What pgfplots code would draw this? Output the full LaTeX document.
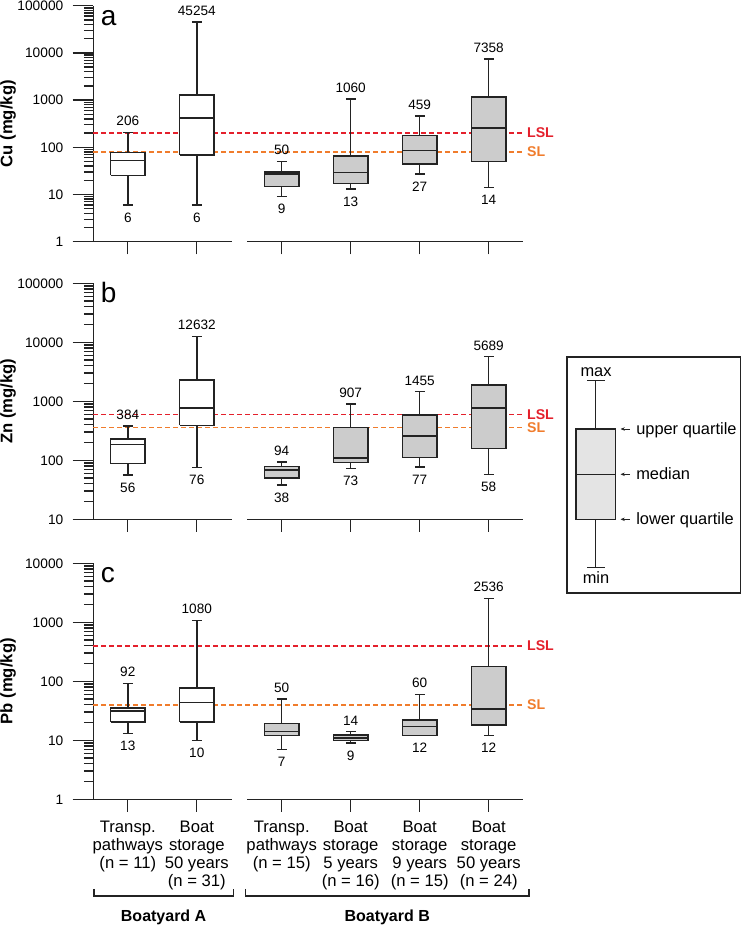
\documentclass[border=0pt]{standalone}
\usepackage{fontspec}
\setmainfont{Liberation Sans}
\usepackage{pgfplots}
\pgfplotsset{compat=1.18}
\usetikzlibrary{arrows.meta}
\definecolor{lslred}{RGB}{228,32,44}
\definecolor{slorange}{RGB}{240,124,44}
\definecolor{ink}{RGB}{35,35,35}
\definecolor{boxgray}{RGB}{204,204,204}
\definecolor{leggray}{RGB}{228,228,228}
\pgfplotsset{
  mypanel/.style={
    scale only axis, width=322.4pt, height=177pt,
    anchor=south west,
    xmin=-0.5, xmax=5.73,
    axis y line*=left, axis x line*=bottom,
    x axis line style={draw=none},
    y axis line style={-, ink, line width=1.1pt},
    tick align=outside,
    major tick length=15.45pt, minor tick length=7pt,
    tick style={ink, line width=1.0pt},
    xtick={0,1,2.23,3.23,4.23,5.23},
    xtick style={/pgfplots/major tick length=9.5pt},
    xticklabels={,,,,,}, yticklabels={,,,,,},
    clip=false,
    every axis y label/.style={at={(axis description cs:-0.198,0.5)}, rotate=90, anchor=center, font=\bfseries\fontsize{12.5}{14}\selectfont},
  },
  boxline/.style={draw=ink, line width=1.1pt, solid, mark=none},
  lsl/.style={draw=lslred, line width=1.3pt, dash pattern=on 3.75pt off 2.25pt, mark=none},
  sl/.style={draw=slorange, line width=1.3pt, dash pattern=on 3.75pt off 2.25pt, mark=none},
}
% box: #1 position, #2 min, #3 lower quartile, #4 median, #5 upper quartile, #6 max, #7 fill colour
\newcommand{\bx}[7]{%
  \pgfmathsetmacro\xl{#1-0.25}\pgfmathsetmacro\xr{#1+0.25}%
  \pgfmathsetmacro\cl{#1-0.07}\pgfmathsetmacro\cr{#1+0.07}%
  \addplot[boxline] coordinates {(#1,#2) (#1,#3)};
  \addplot[boxline] coordinates {(\cl,#2) (\cr,#2)};
  \addplot[boxline] coordinates {(#1,#5) (#1,#6)};
  \addplot[boxline] coordinates {(\cl,#6) (\cr,#6)};
  \addplot[boxline, fill=#7] coordinates {(\xl,#3) (\xr,#3) (\xr,#5) (\xl,#5) (\xl,#3)};
  \addplot[boxline] coordinates {(\xl,#4) (\xr,#4)};
  \node[anchor=base, yshift=5pt, inner sep=0pt, font=\fontsize{10.2}{12}\selectfont] at (axis cs:#1,#6) {#6};
  \node[anchor=base, yshift=-12.8pt, inner sep=0pt, font=\fontsize{10.2}{12}\selectfont] at (axis cs:#1,#2) {#2};
}
\newcommand{\ylab}[1]{\node[anchor=east, inner sep=0pt, xshift=-22.3pt, font=\fontsize{10.3}{12}\selectfont] at (axis cs:-0.5,#1) {#1};}
\newcommand{\limlab}[3]{\node[anchor=west, inner sep=0pt, xshift=2.8pt, text=#3, font=\bfseries\fontsize{10.6}{12}\selectfont] at (axis cs:5.73,#1) {#2};}
\newcommand{\panlet}[1]{\node[anchor=base west, inner sep=0pt, yshift=-14.6pt, font=\fontsize{21}{24}\selectfont] at (axis description cs:0.0172,1) {#1};}
\newcommand{\segs}[1]{%
  \draw[ink, line width=1.1pt] (axis cs:-0.797,#1) -- (axis cs:1.507,#1);
  \draw[ink, line width=1.1pt] (axis cs:1.733,#1) -- (axis cs:5.733,#1);}

\begin{document}
\begin{tikzpicture}
\useasboundingbox (0pt,0pt) rectangle (556.5pt,693.75pt);

% ---------------- panel a: Cu ----------------
\begin{axis}[mypanel, ymode=log, at={(69.975pt,512.475pt)}, ymin=1, ymax=100000,
  ytick={1,10,100,1000,10000,100000},
  minor ytick={2,3,4,5,6,7,8,9,20,30,40,50,60,70,80,90,200,300,400,500,600,700,800,900,2000,3000,4000,5000,6000,7000,8000,9000,20000,30000,40000,50000,60000,70000,80000,90000},
  ylabel={Cu (mg/kg)}]
\addplot[lsl] coordinates {(-0.5,200) (5.73,200)};
\addplot[sl] coordinates {(-0.5,80) (5.73,80)};
\bx{0}{6}{25.3}{52.6}{77.6}{206}{white}
\bx{1}{6}{69.3}{413}{1268}{45254}{white}
\bx{2.23}{9}{14.6}{27.0}{30.3}{50}{boxgray}
\bx{3.23}{13}{16.9}{29.3}{65.9}{1060}{boxgray}
\bx{4.23}{27}{44.7}{85.5}{178}{459}{boxgray}
\bx{5.23}{14}{50.1}{258}{1169}{7358}{boxgray}
\ylab{1}\ylab{10}\ylab{100}\ylab{1000}\ylab{10000}\ylab{100000}
\limlab{200}{LSL}{lslred}
\limlab{80}{SL}{slorange}
\panlet{a}
\segs{1}
\end{axis}

% ---------------- panel b: Zn ----------------
\begin{axis}[mypanel, ymode=log, at={(69.975pt,304.275pt)}, ymin=10, ymax=100000,
  ytick={10,100,1000,10000,100000},
  minor ytick={20,30,40,50,60,70,80,90,200,300,400,500,600,700,800,900,2000,3000,4000,5000,6000,7000,8000,9000,20000,30000,40000,50000,60000,70000,80000,90000},
  ylabel={Zn (mg/kg)}]
\addplot[lsl] coordinates {(-0.5,600) (5.73,600)};
\addplot[sl] coordinates {(-0.5,360) (5.73,360)};
\bx{0}{56}{87.5}{186}{229}{384}{white}
\bx{1}{76}{389}{775}{2308}{12632}{white}
\bx{2.23}{38}{50}{68.3}{77.8}{94}{boxgray}
\bx{3.23}{73}{91}{109}{356}{907}{boxgray}
\bx{4.23}{77}{112}{260}{590}{1455}{boxgray}
\bx{5.23}{58}{157}{765}{1875}{5689}{boxgray}
\ylab{10}\ylab{100}\ylab{1000}\ylab{10000}\ylab{100000}
\limlab{600}{LSL}{lslred}
\limlab{360}{SL}{slorange}
\panlet{b}
\segs{10}
\end{axis}

% ---------------- panel c: Pb ----------------
\begin{axis}[mypanel, ymode=log, at={(69.975pt,94.275pt)}, ymin=1, ymax=10000,
  ytick={1,10,100,1000,10000},
  minor ytick={2,3,4,5,6,7,8,9,20,30,40,50,60,70,80,90,200,300,400,500,600,700,800,900,2000,3000,4000,5000,6000,7000,8000,9000},
  ylabel={Pb (mg/kg)}]
\addplot[lsl] coordinates {(-0.5,400) (5.73,400)};
\addplot[sl] coordinates {(-0.5,40) (5.73,40)};
\bx{0}{13}{20.3}{31.6}{35.6}{92}{white}
\bx{1}{10}{20.3}{43.8}{76.5}{1080}{white}
\bx{2.23}{7}{12.1}{14.1}{19.1}{50}{boxgray}
\bx{3.23}{9}{9.96}{11.0}{12.3}{14}{boxgray}
\bx{4.23}{12}{12.1}{17.2}{22.0}{60}{boxgray}
\bx{5.23}{12}{18.1}{34.2}{180}{2536}{boxgray}
\ylab{1}\ylab{10}\ylab{100}\ylab{1000}\ylab{10000}
\limlab{400}{LSL}{lslred}
\limlab{40}{SL}{slorange}
\panlet{c}
\segs{1}
\end{axis}

\begin{scope}[x=0.75pt, y=0.75pt]
% ---------------- category labels ----------------
\begin{scope}[every node/.style={anchor=north, inner sep=0pt, align=center, font=\fontsize{12.5}{13.6}\selectfont}]
\node at (127.8,104.6) {Transp.\\pathways\\(n = 11)};
\node at (196.8,104.6) {Boat\\storage\\50 years\\(n = 31)};
\node at (281.7,104.6) {Transp.\\pathways\\(n = 15)};
\node at (350.7,104.6) {Boat\\storage\\5 years\\(n = 16)};
\node at (419.7,104.6) {Boat\\storage\\9 years\\(n = 15)};
\node at (488.7,104.6) {Boat\\storage\\50 years\\(n = 24)};
\end{scope}
% ---------------- group brackets ----------------
\draw[ink, line width=1.1pt] (94,925-889) -- (94,925-896) -- (233.3,925-896) -- (233.3,925-889);
\draw[ink, line width=1.1pt] (245.5,925-889) -- (245.5,925-896) -- (528.9,925-896) -- (528.9,925-889);
\node[anchor=base, inner sep=0pt, font=\bfseries\fontsize{12}{14}\selectfont] at (163.6,925-922) {Boatyard A};
\node[anchor=base, inner sep=0pt, font=\bfseries\fontsize{12}{14}\selectfont] at (387.2,925-922) {Boatyard B};

% ---------------- legend ----------------
\begin{scope}[ink, line width=1.1pt]
\draw (567,925-357) rectangle (740.5,925-593);
\draw (595.7,925-380.7) -- (595.7,925-429);
\draw (587.3,925-380.7) -- (605,925-380.7);
\draw[fill=leggray] (576,925-429) rectangle (615.3,925-519.3);
\draw (576,925-474.3) -- (615.3,925-474.3);
\draw (595.7,925-519.3) -- (595.7,925-567.7);
\draw (587.3,925-567.7) -- (605,925-567.7);
\end{scope}
\begin{scope}[font=\fontsize{12.3}{14}\selectfont]
\node[anchor=base, inner sep=0pt] at (596,925-376.7) {max};
\node[anchor=base, inner sep=0pt] at (596,925-583.3) {min};
\foreach \yy/\txt in {429/upper quartile, 474.3/median, 519.3/lower quartile}{
  \draw[ink, line width=0.7pt, -{Stealth[length=3.2pt,width=2.6pt]}] (630,925-\yy) -- (620.5,925-\yy);
  \node[anchor=base west, inner sep=0pt] at (636,925-\yy-5.5) {\txt};
}
\end{scope}
\end{scope}
\end{tikzpicture}
\end{document}
